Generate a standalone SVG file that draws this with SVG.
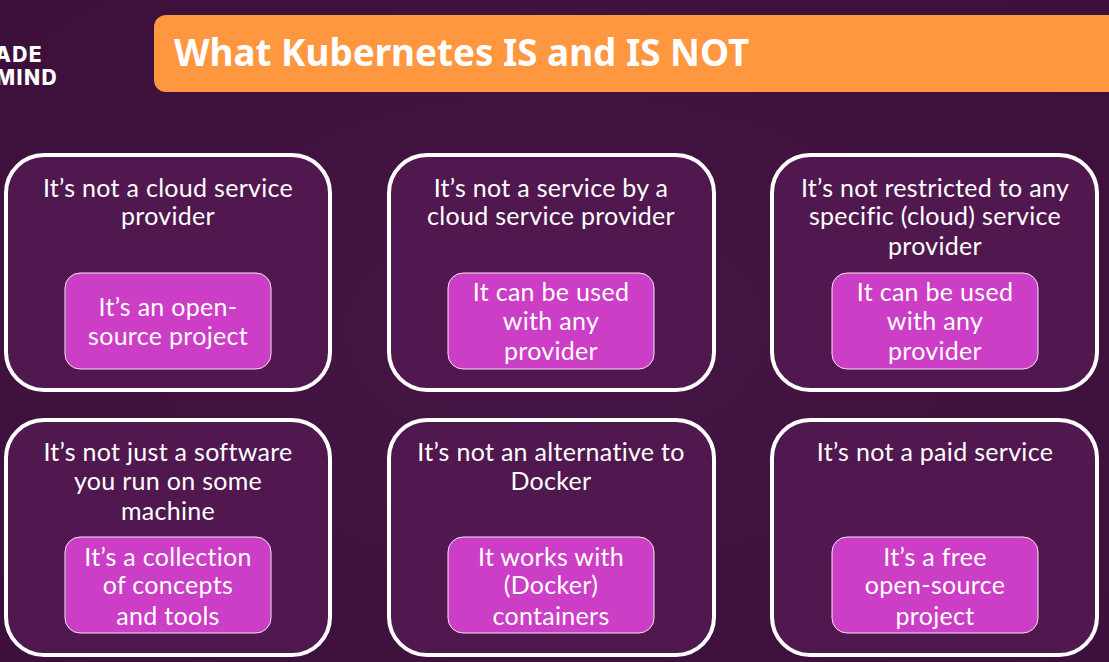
<svg xmlns="http://www.w3.org/2000/svg" width="1109" height="662" viewBox="0 0 1109 662">
<defs><radialGradient id="bg" cx="50%" cy="50%" r="70%"><stop offset="0" stop-color="#461546"/><stop offset="1" stop-color="#3c103a"/></radialGradient></defs>
<style>
.o{fill:#511850;stroke:#fff;stroke-width:4}
.i{fill:#cc3ec6;stroke:#f4e4f4;stroke-width:1}
text{font-family:"Lato","Open Sans",sans-serif;fill:#fff;font-size:25px;letter-spacing:.3px;text-anchor:middle}
.l{font-family:"Inter",sans-serif;font-weight:800;font-size:21px;text-anchor:end;letter-spacing:1.4px}
</style>
<rect width="1109" height="662" fill="url(#bg)"/>
<g id="logo"><text class="l" x="43" y="62">ADE</text><text class="l" x="58" y="85">MIND</text></g>
<g id="header"><path d="M1109 15H166a12 12 0 0 0-12 12V80a12 12 0 0 0 12 12H1109Z" fill="#ff9640"/><text x="174" y="66" style="font-family:'Noto Sans',sans-serif;font-weight:700;font-size:36.8px;letter-spacing:0;text-anchor:start">What Kubernetes IS and IS NOT</text></g>
<g id="card1"><rect class="o" x="6" y="155" width="324" height="235" rx="38"/><text x="168" y="197">It’s not a cloud service</text><text x="168" y="225">provider</text></g>
<g id="note1"><rect class="i" x="65" y="273" width="206" height="96" rx="15"/><text x="168" y="316">It’s an open-</text><text x="168" y="345">source project</text></g>
<g id="card2"><rect class="o" x="389" y="155" width="325" height="235" rx="38"/><text x="551" y="197">It’s not a service by a</text><text x="551" y="225">cloud service provider</text></g>
<g id="note2"><rect class="i" x="448" y="273" width="206" height="96" rx="15"/><text x="551" y="301">It can be used</text><text x="551" y="330">with any</text><text x="551" y="360">provider</text></g>
<g id="card3"><rect class="o" x="772" y="155" width="325" height="235" rx="38"/><text x="935" y="197">It’s not restricted to any</text><text x="935" y="225">specific (cloud) service</text><text x="935" y="255">provider</text></g>
<g id="note3"><rect class="i" x="832" y="273" width="206" height="96" rx="15"/><text x="935" y="301">It can be used</text><text x="935" y="330">with any</text><text x="935" y="360">provider</text></g>
<g id="card4"><rect class="o" x="6" y="420" width="324" height="235" rx="38"/><text x="168" y="461">It’s not just a software</text><text x="168" y="490">you run on some</text><text x="168" y="520">machine</text></g>
<g id="note4"><rect class="i" x="65" y="537" width="206" height="96" rx="15"/><text x="168" y="566">It’s a collection</text><text x="168" y="594">of concepts</text><text x="168" y="625">and tools</text></g>
<g id="card5"><rect class="o" x="389" y="420" width="325" height="235" rx="38"/><text x="551" y="461">It’s not an alternative to</text><text x="551" y="490">Docker</text></g>
<g id="note5"><rect class="i" x="448" y="537" width="206" height="96" rx="15"/><text x="551" y="566">It works with</text><text x="551" y="594">(Docker)</text><text x="551" y="625">containers</text></g>
<g id="card6"><rect class="o" x="772" y="420" width="325" height="235" rx="38"/><text x="935" y="461">It’s not a paid service</text></g>
<g id="note6"><rect class="i" x="832" y="537" width="206" height="96" rx="15"/><text x="935" y="566">It’s a free</text><text x="935" y="594">open-source</text><text x="935" y="625">project</text></g>
</svg>
